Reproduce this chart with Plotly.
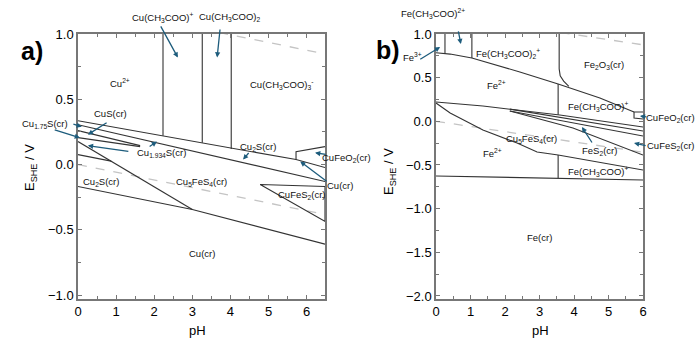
import plotly.graph_objects as go

# ---------------- Panel a data (pH, E/V) ----------------
a_L1_ph = [0, 5.72, 6.48]; a_L1_e = [0.336, 0.038, -0.023]
a_L2_ph = [0, 6.48]; a_L2_e = [0.305, -0.13]
a_L3_ph = [0, 1.63]; a_L3_e = [0.26, 0.145]
a_L4_ph = [0, 1.63]; a_L4_e = [0.206, 0.137]
a_L5_ph = [0, 3.0]; a_L5_e = [0.176, -0.344]
a_L6_ph = [0, 0.87]; a_L6_e = [0.076, 0.026]
a_L7_ph = [0, 3.0, 6.48]; a_L7_e = [-0.168, -0.344, -0.61]
a_tri_ph = [4.78, 6.48, 6.48, 4.78]; a_tri_e = [-0.153, -0.168, -0.435, -0.153]
a_box_ph = [5.72, 5.72, 6.48]; a_box_e = [0.038, 0.099, 0.137]
a_vert_ph = [2.23, 3.26, 4.02]
a_vert_bottom = [0.22, 0.166, 0.12]

# ---------------- Panel b data ----------------
b_P1_ph = [0, 0.41, 1.04, 2.43, 3.54, 4.75, 5.74]
b_P1_e = [0.785, 0.77, 0.725, 0.565, 0.427, 0.267, 0.107]
b_box_ph = [6.0, 5.74, 5.74, 6.0]; b_box_e = [0.107, 0.107, 0.038, 0.026]
b_P2_ph = [3.57, 3.57, 3.60, 3.70, 3.85]; b_P2_e = [1.0, 0.60, 0.52, 0.46, 0.40]
b_vert_ph = [0.26, 1.04]; b_vert_bottom = [0.775, 0.725]
b_P5_ph = [3.54, 3.54]; b_P5_e = [0.427, 0.075]
b_L1_ph = [0, 1.36, 3.59, 6.0]; b_L1_e = [0.221, 0.175, 0.072, -0.065]
b_L2_ph = [2.14, 6.0]; b_L2_e = [0.14, -0.111]
b_L3_ph = [2.14, 6.0]; b_L3_e = [0.118, -0.168]
b_L4_ph = [2.14, 3.97, 6.0]; b_L4_e = [0.118, -0.077, -0.386]
b_L5_ph = [0, 0.41, 1.36, 2.35, 2.93, 3.54, 6.0]
b_L5_e = [0.21, 0.095, -0.10, -0.249, -0.352, -0.386, -0.558]
b_L6_ph = [0, 3.54, 6.0]; b_L6_e = [-0.626, -0.65, -0.672]
b_P6_ph = [3.54, 3.54]; b_P6_e = [-0.386, -0.65]

# water stability lines
w_ph_a = [0, 6.48]; w_ph_b = [0, 6.0]

# axis setup
W, H = 700, 342
XDOM = {1: [78 / W, 325 / W], 2: [436 / W, 643 / W]}
YDOM = [1 - 299 / H, 1 - 34 / H]
XRNG = {1: [0, 6.48], 2: [0, 6.0]}
YRNG = {1: [-1.03, 1.0], 2: [-2.035, 1.0]}

LINE = dict(color="#333333", width=1.1)
DASH = dict(color="#c4c4c4", width=1.3, dash="dash")
ARC = "#1d5c7c"

fig = go.Figure()

def add(ph, e, ax, line=LINE):
    xa = "x" if ax == 1 else "x2"
    ya = "y" if ax == 1 else "y2"
    fig.add_trace(go.Scatter(x=ph, y=e, mode="lines", line=line, xaxis=xa, yaxis=ya,
                             showlegend=False, hoverinfo="skip"))

def to_paper(ph, e, ax):
    xd, xr, yr = XDOM[ax], XRNG[ax], YRNG[ax]
    px = xd[0] + (ph - xr[0]) / (xr[1] - xr[0]) * (xd[1] - xd[0])
    py = YDOM[0] + (e - yr[0]) / (yr[1] - yr[0]) * (YDOM[1] - YDOM[0])
    return px, py

for ax, wph in [(1, w_ph_a), (2, w_ph_b)]:
    add(wph, [-0.059 * p for p in wph], ax, DASH)
    add(wph, [1.23 - 0.059 * p for p in wph], ax, DASH)

for ph, e in [(a_L1_ph, a_L1_e), (a_L2_ph, a_L2_e), (a_L3_ph, a_L3_e), (a_L4_ph, a_L4_e),
              (a_L5_ph, a_L5_e), (a_L6_ph, a_L6_e), (a_L7_ph, a_L7_e), (a_tri_ph, a_tri_e),
              (a_box_ph, a_box_e)]:
    add(ph, e, 1)
for p, b in zip(a_vert_ph, a_vert_bottom):
    add([p, p], [1.0, b], 1)

for ph, e in [(b_P1_ph, b_P1_e), (b_box_ph, b_box_e), (b_P2_ph, b_P2_e), (b_P5_ph, b_P5_e),
              (b_L1_ph, b_L1_e), (b_L2_ph, b_L2_e), (b_L3_ph, b_L3_e), (b_L4_ph, b_L4_e),
              (b_L5_ph, b_L5_e), (b_L6_ph, b_L6_e), (b_P6_ph, b_P6_e)]:
    add(ph, e, 2)
for p, b in zip(b_vert_ph, b_vert_bottom):
    add([p, p], [1.0, b], 2)

FONT = "Liberation Sans, Arial, sans-serif"

# labels: (text, pH, E)
a_labels = [
    ("Cu(CH<sub>3</sub>COO)<sup>+</sup>", 2.23, 1.13),
    ("Cu(CH<sub>3</sub>COO)<sub>2</sub>", 3.99, 1.13),
    ("Cu<sup>2+</sup>", 1.10, 0.626),
    ("Cu(CH<sub>3</sub>COO)<sub>3</sub><sup>-</sup>", 5.35, 0.61),
    ("CuS(cr)", 0.86, 0.39),
    ("Cu<sub>1.75</sub>S(cr)", -0.87, 0.313),
    ("Cu<sub>1.934</sub>S(cr)", 2.2, 0.092),
    ("Cu<sub>2</sub>S(cr)", 4.72, 0.137),
    ("CuFeO<sub>2</sub>(cr)", 7.05, 0.053),
    ("Cu(cr)", 6.88, -0.16),
    ("Cu<sub>2</sub>S(cr)", 0.60, -0.13),
    ("Cu<sub>5</sub>FeS<sub>4</sub>(cr)", 3.25, -0.13),
    ("CuFeS<sub>2</sub>(cr)", 5.88, -0.23),
    ("Cu(cr)", 3.25, -0.68),
]
a_arrows = [  # tail pH, tail E, head pH, head E
    (2.15, 1.07, 2.62, 0.82),
    (3.73, 1.046, 3.65, 0.82),
    (0.79, 0.328, 0.26, 0.229),
    (-0.16, 0.313, 0.10, 0.29),
    (-0.65, 0.27, 0.05, 0.205),
    (1.36, 0.10, 0.26, 0.145),
    (1.84, 0.13, 2.07, 0.176),
    (4.51, 0.10, 4.33, 0.038),
    (6.54, 0.076, 6.22, 0.09),
    (6.56, -0.137, 5.83, 0.023),
]
b_labels = [
    ("Fe(CH<sub>3</sub>COO)<sup>2+</sup>", -0.09, 1.24),
    ("Fe<sup>3+</sup>", -0.68, 0.737),
    ("Fe(CH<sub>3</sub>COO)<sub>2</sub><sup>+</sup>", 2.09, 0.78),
    ("Fe<sub>2</sub>O<sub>3</sub>(cr)", 4.87, 0.645),
    ("Fe<sup>2+</sup>", 1.74, 0.415),
    ("Fe(CH<sub>3</sub>COO)<sup>+</sup>", 4.70, 0.175),
    ("CuFeO<sub>2</sub>(cr)", 6.8, 0.037),
    ("Cu<sub>5</sub>FeS<sub>4</sub>(cr)", 2.78, -0.204),
    ("CuFeS<sub>2</sub>(cr)", 6.8, -0.283),
    ("FeS<sub>2</sub>(cr)", 4.75, -0.34),
    ("Fe<sup>2+</sup>", 1.65, -0.363),
    ("Fe(CH<sub>3</sub>COO)<sup>+</sup>", 4.70, -0.57),
    ("Fe(cr)", 3.01, -1.325),
]
b_arrows = [
    (0.64, 1.046, 0.72, 0.885),
    (-0.5, 0.70, 0.12, 0.85),
    (6.14, 0.048, 5.91, 0.06),
    (6.12, -0.283, 5.74, -0.249),
    (4.55, -0.26, 4.23, -0.066),
]

ann = []
for labels, arrows, ax in [(a_labels, a_arrows, 1), (b_labels, b_arrows, 2)]:
    for t, ph, e in labels:
        px, py = to_paper(ph, e, ax)
        ann.append(dict(text=t, x=px, y=py, xref="paper", yref="paper", showarrow=False,
                        xanchor="center", yanchor="middle",
                        font=dict(family=FONT, size=9.5, color="#111")))
    for tph, te, hph, he in arrows:
        hx, hy = to_paper(hph, he, ax)
        tx, ty = to_paper(tph, te, ax)
        ann.append(dict(text="", x=hx, y=hy, ax=(tx - hx) * W, ay=-(ty - hy) * H,
                        xref="paper", yref="paper", axref="pixel", ayref="pixel",
                        showarrow=True, arrowhead=2, arrowsize=0.8, arrowwidth=1.3,
                        arrowcolor=ARC, standoff=0))

def pann(text, x, y, size, angle=0):
    return dict(text=text, x=x / W, y=1 - y / H, xref="paper", yref="paper",
                showarrow=False, xanchor="center", yanchor="middle", textangle=angle,
                font=dict(family=FONT, size=size, color="black"))

ann += [
    pann("<b>a)</b>", 32, 51, 25),
    pann("<b>b)</b>", 388, 50, 25),
    pann("E<sub>SHE</sub> / V", 30, 168, 13, -90),
    pann("E<sub>SHE</sub> / V", 389, 172, 13, -90),
    pann("pH", 197, 330, 13),
    pann("pH", 540, 330, 13),
]

AX = dict(showline=True, linecolor="#777", linewidth=1.5, mirror="ticks", ticks="inside",
          ticklen=4, tickcolor="#777", showgrid=False, zeroline=False, automargin=False,
          tickfont=dict(family=FONT, size=13, color="black"))
MINX = dict(ticks="inside", ticklen=3, dtick=0.5, tickcolor="#777")
MINY = dict(ticks="inside", ticklen=3, dtick=0.25, tickcolor="#777")

fig.update_layout(
    width=W, height=H, margin=dict(l=0, r=0, t=0, b=0),
    paper_bgcolor="white", plot_bgcolor="white", showlegend=False,
    xaxis=dict(domain=XDOM[1], range=XRNG[1], tickvals=[0, 1, 2, 3, 4, 5, 6], minor=MINX, **AX),
    yaxis=dict(domain=YDOM, range=YRNG[1], tickvals=[-1.0, -0.5, 0.0, 0.5, 1.0],
               tickformat=".1f", minor=MINY, **AX),
    xaxis2=dict(domain=XDOM[2], range=XRNG[2], tickvals=[0, 1, 2, 3, 4, 5, 6], anchor="y2",
                minor=MINX, **AX),
    yaxis2=dict(domain=YDOM, range=YRNG[2], anchor="x2",
                tickvals=[-2.0, -1.5, -1.0, -0.5, 0.0, 0.5, 1.0], tickformat=".1f",
                minor=MINY, **AX),
    annotations=ann,
)

fig.write_html("out.html", config={"displayModeBar": False},
               post_script="document.body.style.margin='0';")
